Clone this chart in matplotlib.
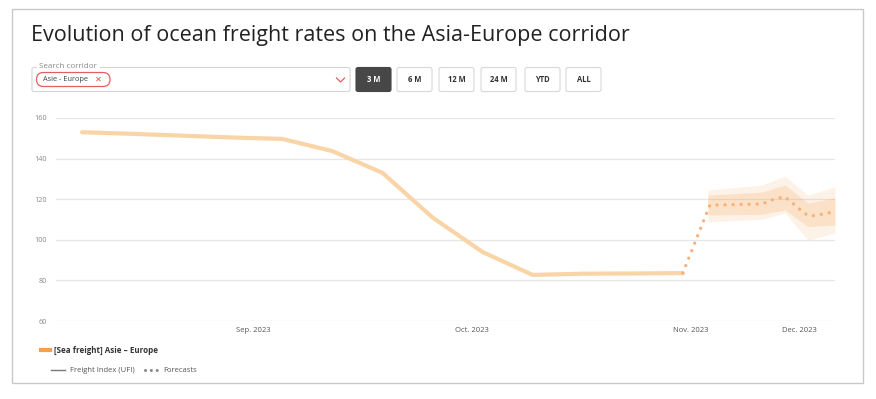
import matplotlib
matplotlib.use("Agg")
import matplotlib.pyplot as plt
from matplotlib.patches import FancyBboxPatch, Rectangle
from matplotlib.lines import Line2D
from matplotlib.transforms import IdentityTransform

plt.rcParams['font.family'] = ['Open Sans', 'DejaVu Sans']

W, H = 876, 399

# weekly freight index (x = week number)
hist_x = [0, 1, 2, 3, 4, 5, 6, 7, 8, 9, 10, 11, 12]
hist_y = [153, 152.2, 151.3, 150.4, 149.7, 143.7, 133, 111, 94, 82.7, 83.3, 83.4, 83.6]

# forecast
fc_x = [12.0, 12.54, 13.58, 13.74, 13.89, 14.04, 14.15, 14.27, 14.37, 14.50, 14.64, 14.78, 14.94]
fc_y = [83.6, 117.1, 117.6, 119.3, 120.4, 121.2, 118.8, 116.7, 114.2, 111.9, 111.9, 112.6, 113.4]

band_x = [12.5, 13.58, 14.04, 14.50, 15.04]
outer_hi = [124.5, 127, 131.4, 122, 126.2]
outer_lo = [108.9, 110, 113.2, 99.9, 103.3]
inner_hi = [122, 123.5, 127, 118.1, 120.6]
inner_lo = [112.2, 112.5, 114.7, 106.5, 107.3]

month_pos = [3.43, 7.79, 12.16, 14.32]
month_labels = ["Sep. 2023", "Oct. 2023", "Nov. 2023", "Dec. 2023"]
yticks = [60, 80, 100, 120, 140, 160]

buttons = ["3 M", "6 M", "12 M", "24 M", "YTD", "ALL"]
button_left = [356, 397, 439, 481, 525, 566]

orange = '#f7a04b'
line_col = '#f9d4a6'

fig = plt.figure(figsize=(W / 100, H / 100), dpi=100)
ax = fig.add_axes([56 / W, 1 - 321 / H, (835 - 56) / W, (321 - 118) / H])

ax.fill_between(band_x, outer_lo, outer_hi, color=orange, alpha=0.13, lw=0)
ax.fill_between(band_x, inner_lo, inner_hi, color=orange, alpha=0.2, lw=0)
ax.plot(hist_x, hist_y, color=line_col, lw=3, solid_capstyle='round', solid_joinstyle='round')
ax.plot(fc_x, fc_y, color='#f5b27a', lw=2.4, linestyle=(0, (0.01, 2.4)), dash_capstyle='round')

ax.set_xlim(-0.52, 15.04)
ax.set_ylim(60, 160)
ax.set_yticks(yticks)
ax.set_xticks(month_pos, month_labels)
ax.grid(axis='y', color='#e6e6e6', lw=0.9)
ax.set_axisbelow(True)
for s in ax.spines.values():
    s.set_visible(False)
ax.tick_params(axis='y', length=0, pad=6.5, labelsize=5.2, labelcolor='#888888')
ax.tick_params(axis='x', length=0, pad=4.5, labelsize=5.5, labelcolor='#555555')

T = IdentityTransform()


def box(x0, y0, x1, y1, **kw):
    p = FancyBboxPatch((x0, H - y1), x1 - x0, y1 - y0, transform=T, **kw)
    fig.add_artist(p)


def text(x, y, s, **kw):
    fig.text(x, H - y, s, transform=T, **kw)


# outer frame
fig.add_artist(Rectangle((12, H - 383), 851, 374, transform=T, fill=False, ec='#c8c8c8', lw=1))

text(31, 36, "Evolution of ocean freight rates on the Asia-Europe corridor",
     fontsize=15.5, color='#222222', va='center', ha='left')

# search corridor box
box(32, 67.5, 350, 91.5, boxstyle="round,pad=0,rounding_size=2", fc='white', ec='#d5d5d5', lw=0.8)
fig.add_artist(Rectangle((37, H - 69), 63, 4, transform=T, fc='white', ec='none'))
text(39, 66.5, "Search corridor", fontsize=5.8, color='#888888', va='center')
box(36.5, 72.5, 110, 86.5, boxstyle="round,pad=0,rounding_size=7", fc='white', ec='#e06060', lw=0.9)
text(43, 79.5, "Asie - Europe", fontsize=5.3, color='#444444', va='center')
text(98.5, 79.3, "\u2715", fontsize=6, color='#e05050', va='center', ha='center', family='DejaVu Sans')
fig.add_artist(Line2D([336.5, 340.5, 344.5], [H - 78, H - 82, H - 78], transform=T, color='#e06060', lw=0.9))

for lbl, bx in zip(buttons, button_left):
    active = lbl == "3 M"
    box(bx, 67.5, bx + 35, 91.5, boxstyle="round,pad=0,rounding_size=2",
        fc='#474747' if active else 'white', ec='#474747' if active else '#d8d8d8', lw=0.8)
    text(bx + 17.5, 79.5, lbl, fontsize=5.5, weight='bold', color='white' if active else '#333333',
         va='center', ha='center')

# legend
fig.add_artist(Line2D([41, 50], [H - 350, H - 350], transform=T, color=orange, lw=3))
text(54, 350, "[Sea freight] Asie \u2013 Europe", fontsize=5.8, weight='bold', color='#333333', va='center')
fig.add_artist(Line2D([51, 65], [H - 370, H - 370], transform=T, color='#777777', lw=1))
text(70, 370, "Freight Index (UFI)", fontsize=5.5, color='#555555', va='center')
fig.add_artist(Line2D([145, 157], [H - 370, H - 370], transform=T, color='#888888', lw=2.2,
                      linestyle=(0, (0.01, 1.9)), dash_capstyle='round'))
text(163, 370, "Forecasts", fontsize=5.5, color='#555555', va='center')

fig.savefig("out.png", dpi=100)
